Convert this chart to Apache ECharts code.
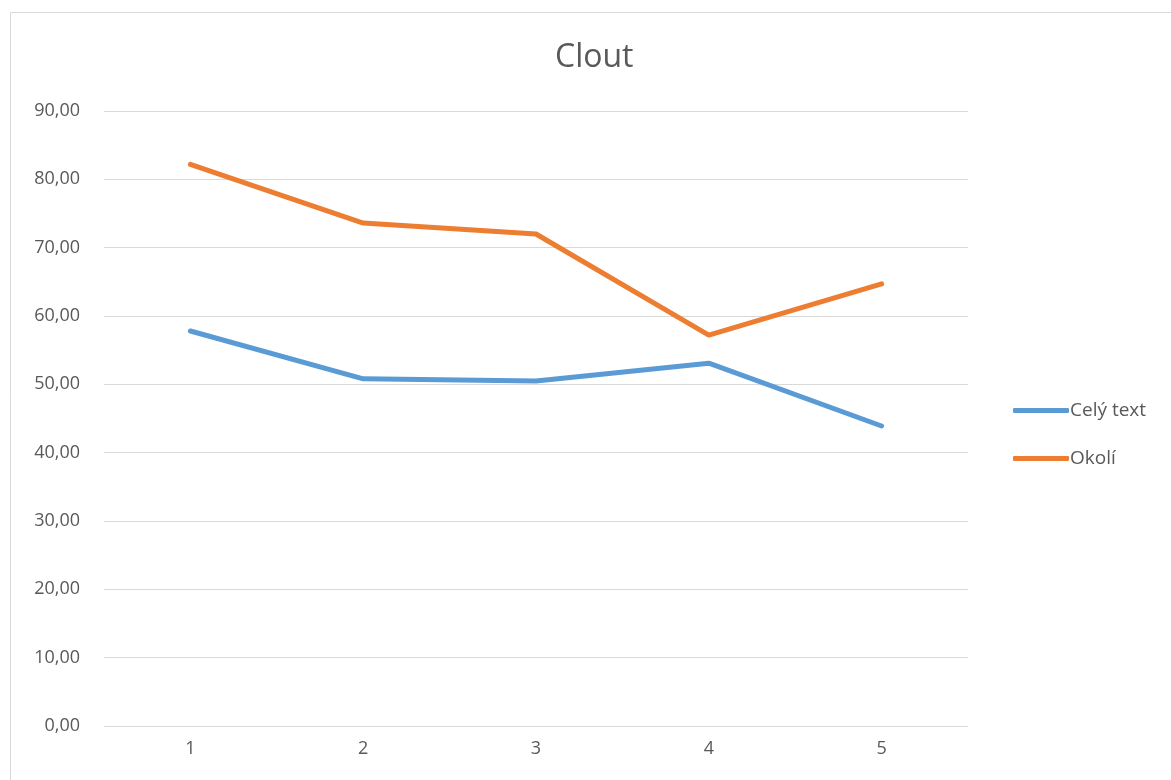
<!DOCTYPE html>
<html>
<head>
<meta charset="utf-8">
<script src="https://cdn.jsdelivr.net/npm/echarts@6/dist/echarts.min.js"></script>
<style>
  html, body { margin: 0; padding: 0; background: #fff; }
  #chart { width: 1171px; height: 780px; }
</style>
</head>
<body>
<div id="chart"></div>
<script>
const categories = ['1', '2', '3', '4', '5'];
const celyText = [57.8, 50.8, 50.5, 53.1, 43.9];
const okoli = [82.2, 73.6, 72.0, 57.2, 64.7];

const chart = echarts.init(document.getElementById('chart'));
const fontFamily = '"Open Sans", "Noto Sans", sans-serif';

chart.setOption({
  animation: false,
  textStyle: { fontFamily: fontFamily },
  title: {
    text: 'Clout',
    left: 555,
    top: 42,
    padding: 0,
    textStyle: { fontSize: 32, fontWeight: 'normal', color: '#595959', fontFamily: fontFamily }
  },
  graphic: [{
    type: 'rect',
    shape: { x: 10.5, y: 12.5, width: 1170, height: 780 },
    style: { fill: 'none', stroke: '#d9d9d9', lineWidth: 1 },
    silent: true
  }],
  legend: {
    orient: 'vertical',
    left: 1008,
    top: 396,
    itemWidth: 56,
    itemHeight: 5,
    itemGap: 29,
    icon: 'roundRect',
    textStyle: { fontSize: 19, color: '#595959', padding: [0, 0, 0, -4] },
    data: ['Celý text', 'Okolí']
  },
  grid: { left: 104, right: 203, top: 111, bottom: 54 },
  xAxis: {
    type: 'category',
    data: categories,
    boundaryGap: true,
    axisLine: { show: false },
    axisTick: { show: false },
    axisLabel: { fontSize: 18, color: '#595959', margin: 14 }
  },
  yAxis: {
    type: 'value',
    min: 0,
    max: 90,
    interval: 10,
    axisLine: { show: false },
    axisTick: { show: false },
    axisLabel: {
      fontSize: 18,
      color: '#595959',
      margin: 24,
      formatter: v => v.toFixed(2).replace('.', ',')
    },
    splitLine: { lineStyle: { color: '#d9d9d9', width: 1 } }
  },
  series: [{
    name: 'Celý text',
    type: 'line',
    data: celyText,
    symbol: 'none',
    lineStyle: { width: 5, color: '#5b9bd5', cap: 'round' },
    itemStyle: { color: '#5b9bd5' }
  }, {
    name: 'Okolí',
    type: 'line',
    data: okoli,
    symbol: 'none',
    lineStyle: { width: 5, color: '#ed7d31', cap: 'round' },
    itemStyle: { color: '#ed7d31' }
  }]
});

window.addEventListener('resize', function () {
  chart.resize();
});
</script>
</body>
</html>
